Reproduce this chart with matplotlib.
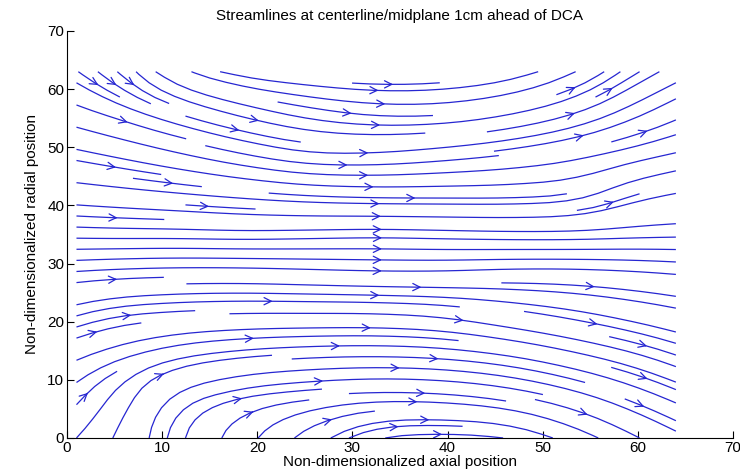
import numpy as np
import matplotlib
matplotlib.use("Agg")
import matplotlib.pyplot as plt

# Sample grid (non-dimensional units) where the flow direction was read off
x_pos = [1, 8, 15, 22, 29, 36, 43, 50, 57, 64]
y_pos = [0, 7, 14, 21, 28, 35, 42, 49, 56, 63]

# Flow direction in degrees (0 = axial, +90 = radially outward), one list per y_pos row
angle_y0 = [60, 85, 80, 60, 40, 5, -5, -30, -40, -40]
angle_y7 = [60, 70, 25, 10, 6, -2, -10, -20, -30, -35]
angle_y14 = [33, 25, 12, 6, 2, -3, -10, -18, -22, -30]
angle_y21 = [26, 8, 3, 0, 0, -5, -15, -15, -18, -20]
angle_y28 = [7, 3, 0, -3, -3, 0, 4, 0, -5, -8]
angle_y35 = [-2, 0, -2, 2, 2, -2, -2, 0, 4, 2]
angle_y42 = [-8, -8, -8, -7, -3, 0, 0, 5, 35, 15]
angle_y49 = [-18, -20, -20, -16, 0, 8, 10, 14, 20, 20]
angle_y56 = [-28, -30, -25, -20, -12, 0, 13, 22, 35, 39]
angle_y63 = [-50, -60, -25, -8, -5, 3, 12, 31, 50, 39]

x_ticks = [0, 10, 20, 30, 40, 50, 60, 70]
y_ticks = [0, 10, 20, 30, 40, 50, 60, 70]

title = "Streamlines at centerline/midplane 1cm ahead of DCA"
x_label = "Non-dimensionalized axial position"
y_label = "Non-dimensionalized radial position"

plt.rcParams["font.family"] = ["Liberation Sans", "DejaVu Sans"]

angles = np.radians(np.array([angle_y0, angle_y7, angle_y14, angle_y21, angle_y28,
                              angle_y35, angle_y42, angle_y49, angle_y56, angle_y63],
                             dtype=float))
u = np.cos(angles)
v = np.sin(angles)

fig = plt.figure(figsize=(7.4, 4.74), dpi=100)
ax = fig.add_axes([0.0905, 0.076, 0.9, 0.8586])

line_color = (0.15, 0.15, 0.82)
ax.streamplot(np.array(x_pos, float), np.array(y_pos, float), u, v,
              density=1.15, color=line_color, linewidth=0.9,
              arrowsize=1.3, arrowstyle="->")

ax.set_xlim(0, 70)
ax.set_ylim(0, 70)
ax.set_xticks(x_ticks)
ax.set_yticks(y_ticks)

# MATLAB-like axes: box off, ticks pointing inward
for side in ("top", "right"):
    ax.spines[side].set_visible(False)
ax.tick_params(direction="in", length=5, labelsize=11, pad=2)

ax.set_title(title, fontsize=11, pad=8)
ax.set_xlabel(x_label, fontsize=11, labelpad=0)
ax.set_ylabel(y_label, fontsize=11, labelpad=6)

fig.savefig("out.png", dpi=100)
